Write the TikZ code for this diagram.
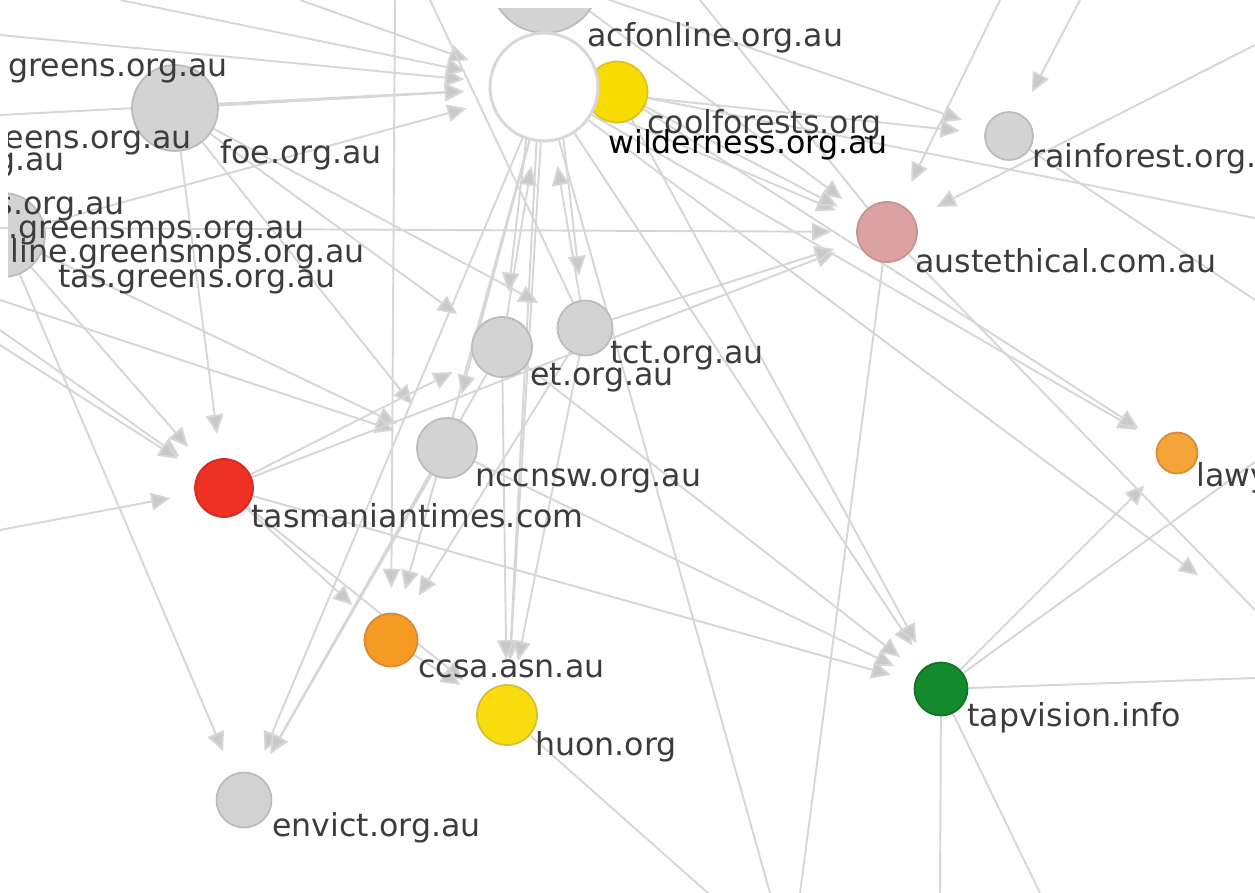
\documentclass[tikz,border=0pt]{standalone}
\usepackage{fontspec}
\setmainfont{DejaVu Sans}
\usetikzlibrary{arrows.meta}
\definecolor{edge}{HTML}{D6D6D6}
\definecolor{tipgrey}{HTML}{C9C9C9}
\definecolor{nodegrey}{HTML}{D3D3D3}
\definecolor{nodeline}{HTML}{BBBBBB}
\definecolor{acfline}{HTML}{D8D8D8}
\definecolor{coolfill}{HTML}{F7DC00}
\definecolor{cooldraw}{HTML}{DCC21A}
\definecolor{austfill}{HTML}{DCA2A2}
\definecolor{austdraw}{HTML}{C99090}
\definecolor{tasfill}{HTML}{EE3124}
\definecolor{tasdraw}{HTML}{D42A20}
\definecolor{ccsafill}{HTML}{F59A23}
\definecolor{ccsadraw}{HTML}{D88A35}
\definecolor{huonfill}{HTML}{F8DC0C}
\definecolor{huondraw}{HTML}{D6BE35}
\definecolor{tapfill}{HTML}{138A2C}
\definecolor{tapdraw}{HTML}{0E7524}
\definecolor{lawyfill}{HTML}{F5A43A}
\definecolor{urltext}{HTML}{3C3C3C}
\pgfdeclarelayer{bg}
\pgfsetlayers{bg,main}

\begin{document}
\begin{tikzpicture}[x=0.02cm,y=-0.02cm,
    site/.style={circle,draw=nodeline,fill=nodegrey,line width=1pt,inner sep=0pt},
    link/.style={draw=edge,line width=1.1pt,-{Triangle[width=10pt,length=11pt,fill=tipgrey]},shorten >=14pt},
    plain/.style={draw=edge,line width=1.1pt},
    url/.style={anchor=base west,text=urltext,font=\fontsize{18}{20}\selectfont,inner sep=0pt},
    urlr/.style={url,anchor=base east}]
        \useasboundingbox (0,0) rectangle (1255,893);
        \clip (8,8) rectangle (1255,893);

        % sites
        \path
        (545,-22) node[site,minimum size=2.2cm] (top) {}
        (617,92) node[site,minimum size=1.22cm,fill=coolfill,draw=cooldraw] (cool) {}
        (544,87) node[site,minimum size=2.16cm,fill=white,draw=acfline,line width=1.7pt] (acf) {}
        (175,108) node[site,minimum size=1.72cm] (foe) {}
        (3,235) node[site,minimum size=1.68cm] (tasg) {}
        (1009,136) node[site,minimum size=0.96cm] (rain) {}
        (887,232) node[site,minimum size=1.2cm,fill=austfill,draw=austdraw] (aust) {}
        (502,347) node[site,minimum size=1.2cm] (et) {}
        (585,328) node[site,minimum size=1.1cm] (tct) {}
        (447,448) node[site,minimum size=1.2cm] (ncc) {}
        (224,488) node[site,minimum size=1.16cm,fill=tasfill,draw=tasdraw] (tas) {}
        (391,640) node[site,minimum size=1.06cm,fill=ccsafill,draw=ccsadraw] (ccsa) {}
        (507,715) node[site,minimum size=1.2cm,fill=huonfill,draw=huondraw] (huon) {}
        (244,800) node[site,minimum size=1.1cm] (envict) {}
        (941,689) node[site,minimum size=1.06cm,fill=tapfill,draw=tapdraw] (tap) {}
        (1177,453) node[site,minimum size=0.82cm,fill=lawyfill,draw=ccsadraw] (lawy) {}
        ;

        % links leaving the frame
        \path
        (120,0) coordinate (t1) (300,0) coordinate (t2) (395,0) coordinate (t3)
        (430,0) coordinate (t4) (700,0) coordinate (t5) (1000,0) coordinate (t6)
        (1080,0) coordinate (t7)
        (1255,45) coordinate (r1) (1255,218) coordinate (r2) (1255,610) coordinate (r3)
        (1255,678) coordinate (r4) (1255,462) coordinate (r5) (1255,300) coordinate (r6)
        (0,330) coordinate (l1) (0,345) coordinate (l2) (0,530) coordinate (l3)
        (0,35) coordinate (l4) (0,115) coordinate (l5) (0,228) coordinate (l6)
        (0,300) coordinate (l7)
        (708,893) coordinate (b1) (770,893) coordinate (b2) (800,893) coordinate (b3)
        (940,893) coordinate (b4) (1040,893) coordinate (b5)
        (1218,590) coordinate (x1)
        ;

        \begin{pgfonlayer}{bg}
        \foreach \a/\b in {foe/acf,tasg/acf,l4/acf,l5/acf,t1/acf,t2/acf,et/acf,tct/acf,
            acf/aust,acf/lawy,acf/tap,acf/rain,acf/huon,acf/ccsa,acf/envict,acf/ncc,acf/x1,
            top/et,top/tct,top/huon,top/rain,top/aust,
            cool/aust,cool/lawy,cool/tap,
            foe/ncc,foe/et,foe/tas,foe/tct,tasg/envict,tasg/tas,tasg/ncc,
            l1/tas,l2/tas,l3/tas,l6/aust,l7/ncc,
            tas/tap,tas/aust,tas/ccsa,tas/huon,tas/et,
            ncc/tap,ncc/envict,et/huon,et/envict,et/tap,
            tct/huon,tct/aust,tct/ccsa,ccsa/huon,tap/lawy,
            r1/aust,t6/aust,t7/rain,t3/ccsa}
            \draw[link] (\a) -- (\b);
        \foreach \a/\b in {acf/b2,aust/b3,huon/b1,tap/r5,tap/r4,tap/b4,tap/b5,
            cool/r2,aust/r3,rain/r6,t4/tct,t5/aust}
            \draw[plain] (\a) -- (\b);
        \end{pgfonlayer}

        % urls
        \node[url] (lacf) at (587,46) {acfonline.org.au};
        \node[url] (lcool) at (647,133) {coolforests.org};
        \node[url,text=black] (lwild) at (608,153) {wilderness.org.au};
        \node[url] (lgreens) at (8,76) {greens.org.au};
        \node[urlr] (leens) at (192,148) {eens.org.au};
        \node[urlr] (lgau) at (65,170) {g.au};
        \node[url] (lfoe) at (220,163) {foe.org.au};
        \node[urlr] (lsorg) at (125,214) {s.org.au};
        \node[urlr] (lgmps) at (305,238) {.greensmps.org.au};
        \node[urlr] (lline) at (365,262) {line.greensmps.org.au};
        \node[url] (ltasg) at (58,287) {tas.greens.org.au};
        \node[url] (lrain) at (1032,167) {rainforest.org.};
        \node[url] (laust) at (915,272) {austethical.com.au};
        \node[url] (ltct) at (610,363) {tct.org.au};
        \node[url] (let) at (530,385) {et.org.au};
        \node[url] (lncc) at (475,486) {nccnsw.org.au};
        \node[url] (ltas) at (251,527) {tasmaniantimes.com};
        \node[url] (lccsa) at (418,677) {ccsa.asn.au};
        \node[url] (lhuon) at (535,755) {huon.org};
        \node[url] (lenv) at (272,836) {envict.org.au};
        \node[url] (ltap) at (967,726) {tapvision.info};
        \node[url] (llawy) at (1196,486) {lawy};
      \end{tikzpicture}
\end{document}
